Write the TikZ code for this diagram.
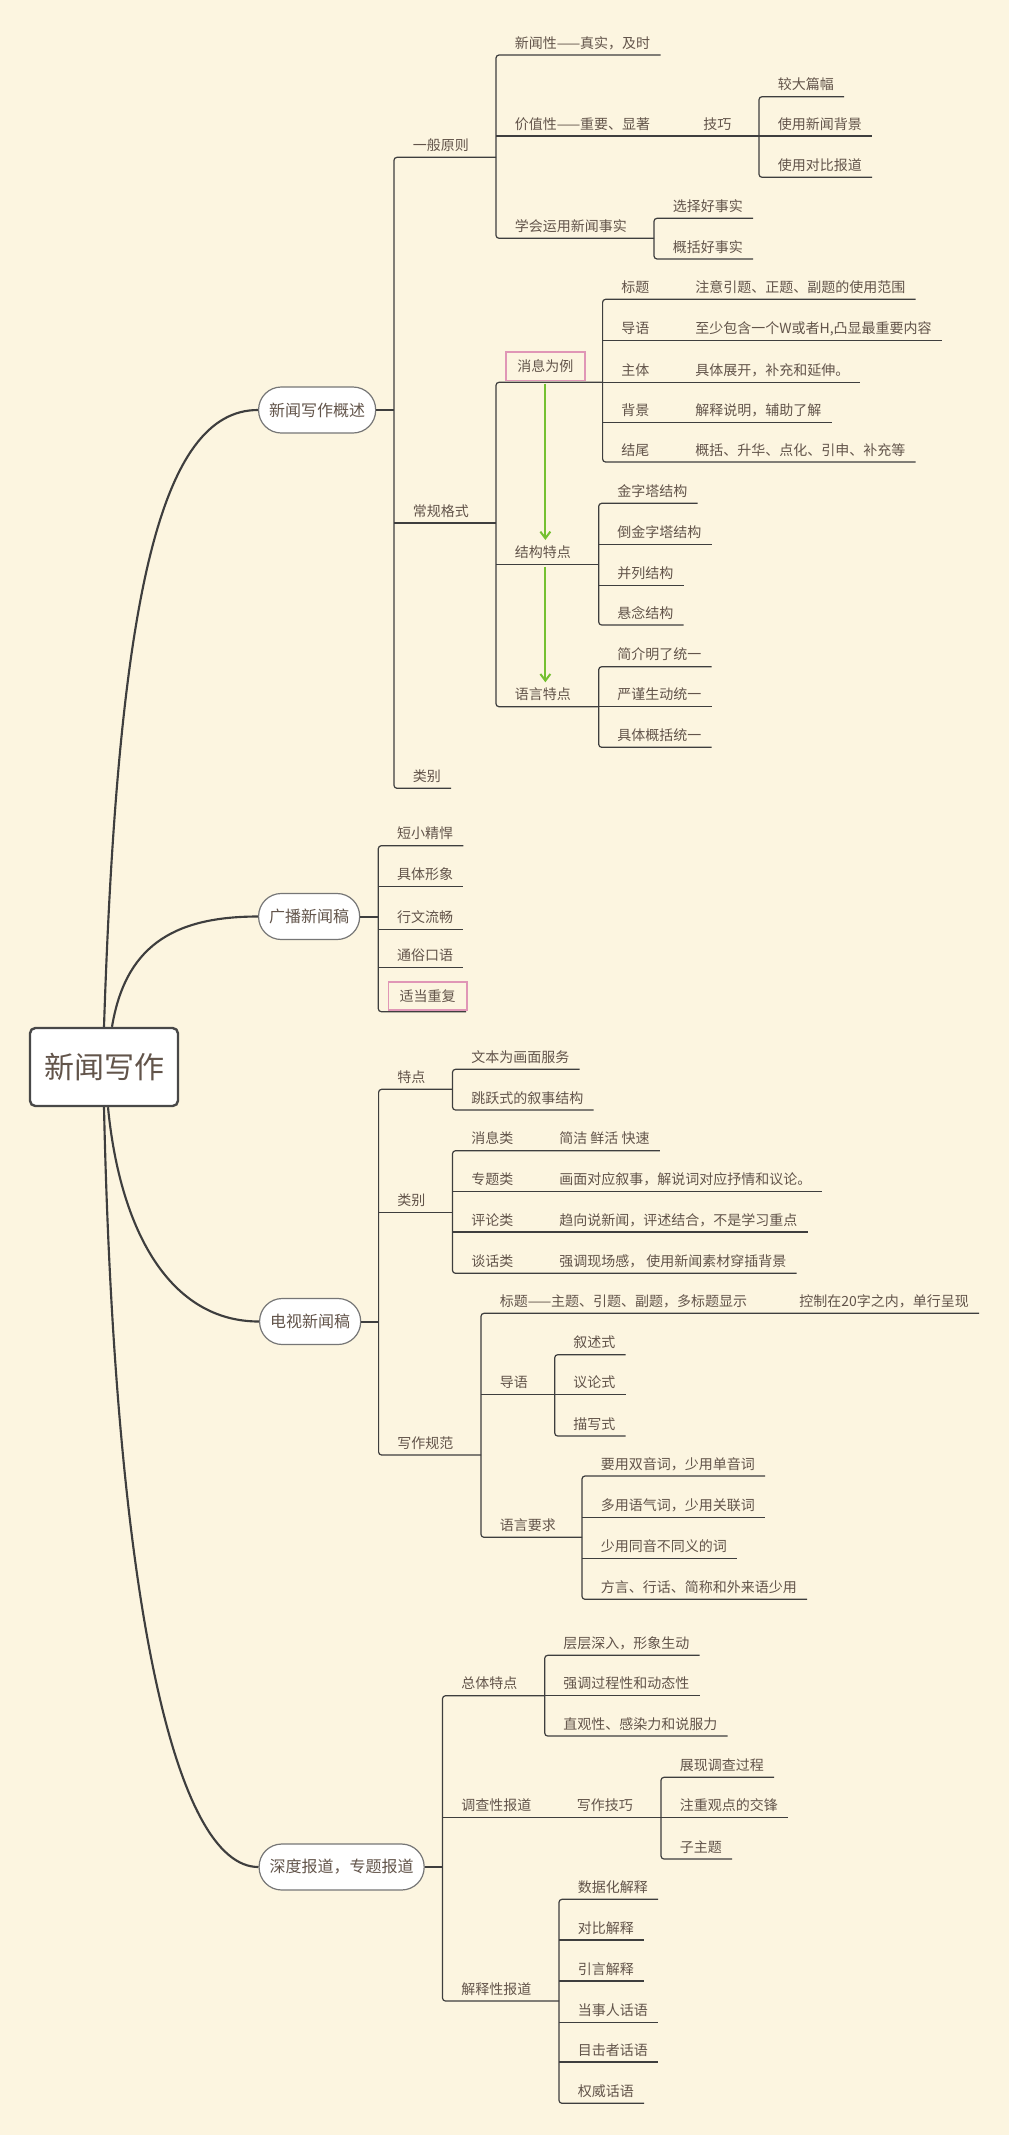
\documentclass[tikz,border=0pt]{standalone}
\usepackage{fontspec}
\newfontfamily\cjk{Noto Sans CJK SC}
\usetikzlibrary{arrows.meta,calc}
\definecolor{bgc}{RGB}{252,245,224}
\definecolor{txtc}{RGB}{98,84,74}
\definecolor{lnc}{RGB}{62,62,62}
\definecolor{pinkc}{RGB}{224,150,182}
\definecolor{greenc}{RGB}{116,192,48}
\definecolor{pillb}{RGB}{118,118,118}
\definecolor{rootb}{RGB}{72,72,72}
% leaf topic: name, bracket x, line y, text
\newcommand{\mmtp}[4]{%
  \node[tx] (#1) at (#2+18.5,#3-7) {#4};
  \coordinate (#1-a) at (#2,#3);
  \path (#1.east |- #1-a) ++(10,0) coordinate (#1-b);
}
% parent topic: name, bracket x, line y, text, end x
\newcommand{\mmtpp}[5]{%
  \node[tx] (#1) at (#2+18.5,#3-7) {#4};
  \coordinate (#1-a) at (#2,#3);
  \coordinate (#1-b) at (#5,#3);
}
% label + description row: name, bracket x, line y, label, desc x, desc
\newcommand{\mmrow}[6]{%
  \node[tx] (#1) at (#2+18.5,#3-7) {#4};
  \node[tx] (#1d) at (#5,#3-7) {#6};
  \coordinate (#1-a) at (#2,#3);
  \path (#1d.east |- #1-a) ++(10,0) coordinate (#1-b);
}
\newcommand{\mmdash}{\makebox[28pt][s]{—\hfil—}}
\begin{document}
\begin{tikzpicture}[x=0.75pt,y=-0.75pt,
  tx/.style={font=\cjk\fontsize{10.5pt}{12pt}\selectfont, text=txtc, inner sep=0pt, anchor=base west},
  ln/.style={draw=lnc, line width=0.9pt},
  br/.style={ln, rounded corners=2.25pt},
  joinln/.style={draw=lnc, line width=1.5pt},
  mainc/.style={draw=lnc, line width=1.6pt},
  pill/.style={draw=pillb, fill=white, line width=0.9pt, rounded corners=17pt, minimum height=34.5pt, inner xsep=7.9pt, inner ysep=0pt, font=\cjk\fontsize{12pt}{14pt}\selectfont, text=txtc, anchor=west},
  rootn/.style={draw=rootb, fill=white, line width=1.8pt, rounded corners=4pt, minimum width=111pt, minimum height=58.5pt, inner sep=0pt, font=\cjk\fontsize{22.5pt}{26pt}\selectfont, text=txtc},
  markbox/.style={draw=pinkc, line width=1.3pt, inner xsep=0pt, inner ysep=0pt, minimum height=21.5pt, font=\cjk\fontsize{10.5pt}{12pt}\selectfont, text=txtc, anchor=south west},
  garrow/.style={draw=greenc, line width=1.5pt, -{Straight Barb[length=5pt,width=7.5pt]}}
]
\useasboundingbox (0,0) rectangle (1009,2135);
\fill[bgc] (0,0) rectangle (1009,2135);

% ---------- root ----------
\node[rootn] (root) at (104,1067) {新闻写作};

% ---------- A: 新闻写作概述 ----------
\node[pill] (A) at (258,410) {新闻写作概述};
\draw[mainc] (root.north) .. controls +(14,-428) and +(-98,0) .. (A.west);
\coordinate (A-j) at (394,410);
\draw[joinln] (A.east) -- (A-j);

\mmtpp{a1}{394}{157.3}{一般原则}{496}
\mmtpp{a2}{394}{523}{常规格式}{496}
\mmtp{a3}{394}{788.3}{类别}
\draw[br] (a1-b) -- (a1-a) -- (a3-a) -- (a3-b);
\draw[ln] (a2-a) -- (a2-b);

% 一般原则
\mmtp{a11}{496}{55}{新闻性——真实，及时}
\mmtpp{a12}{496}{136}{价值性——重要、显著}{759}
\mmtpp{a13}{496}{238.3}{学会运用新闻事实}{654}
\draw[br] (a11-b) -- (a11-a) -- (a13-a) -- (a13-b);
\draw[ln] (a12-a) -- (a12-b);
\node[tx] (a121) at (703,129) {技巧};
\mmtp{t1}{759}{96.7}{较大篇幅}
\mmtp{t2}{759}{136}{使用新闻背景}
\mmtp{t3}{759}{177.3}{使用对比报道}
\draw[br] (t1-b) -- (t1-a) -- (t3-a) -- (t3-b);
\draw[ln] (t2-a) -- (t2-b);
\mmtp{s1}{654}{218.3}{选择好事实}
\mmtp{s2}{654}{259}{概括好事实}
\draw[br] (s1-b) -- (s1-a) -- (s2-a) -- (s2-b);

% 常规格式
\node[markbox, minimum width=59.25pt] (m) at (505,381.3) {消息为例};
\coordinate (m-a) at (496,382.3);
\coordinate (m-b) at (602.6,382.3);
\mmtpp{a22}{496}{564.3}{结构特点}{598.7}
\mmtpp{a23}{496}{706.7}{语言特点}{598.7}
\draw[br] (m-b) -- (m-a) -- (a23-a) -- (a23-b);
\draw[ln] (a22-a) -- (a22-b);

\mmrow{r1}{602.6}{299.3}{标题}{695}{注意引题、正题、副题的使用范围}
\mmrow{r2}{602.6}{340.3}{导语}{695}{至少包含一个W或者H,凸显最重要内容}
\mmrow{r3}{602.6}{382.3}{主体}{695}{具体展开，补充和延伸。}
\mmrow{r4}{602.6}{422.3}{背景}{695}{解释说明，辅助了解}
\mmrow{r5}{602.6}{462}{结尾}{695}{概括、升华、点化、引申、补充等}
\draw[br] (r1-b) -- (r1-a) -- (r5-a) -- (r5-b);
\draw[ln] (r2-a) -- (r2-b);
\draw[ln] (r3-a) -- (r3-b);
\draw[ln] (r4-a) -- (r4-b);

\mmtp{k1}{598.7}{503.3}{金字塔结构}
\mmtp{k2}{598.7}{544.3}{倒金字塔结构}
\mmtp{k3}{598.7}{585.3}{并列结构}
\mmtp{k4}{598.7}{625}{悬念结构}
\draw[br] (k1-b) -- (k1-a) -- (k4-a) -- (k4-b);
\draw[ln] (k2-a) -- (k2-b);
\draw[ln] (k3-a) -- (k3-b);

\mmtp{l1}{598.7}{666.7}{简介明了统一}
\mmtp{l2}{598.7}{706.7}{严谨生动统一}
\mmtp{l3}{598.7}{747.3}{具体概括统一}
\draw[br] (l1-b) -- (l1-a) -- (l3-a) -- (l3-b);
\draw[ln] (l2-a) -- (l2-b);

\draw[garrow, shorten <=1.8pt, shorten >=4pt] (m.south) -- (m.south |- a22.north);
\draw[garrow, shorten <=1.8pt, shorten >=4pt] (m.south |- a22-a) -- (m.south |- a23.north);

% ---------- B: 广播新闻稿 ----------
\node[pill] (B) at (258,916.5) {广播新闻稿};
\draw[mainc] ($(root.north)+(8,0)$) .. controls +(13,-78) and +(-88,0) .. (B.west);
\coordinate (B-j) at (378.3,916.5);
\draw[joinln] (B.east) -- (B-j);
\mmtp{b1}{378.3}{845.7}{短小精悍}
\mmtp{b2}{378.3}{886.7}{具体形象}
\mmtp{b3}{378.3}{929.3}{行文流畅}
\mmtp{b4}{378.3}{967.3}{通俗口语}
\node[markbox, minimum width=58.7pt, minimum height=21.2pt] (b5) at (387.7,1011) {适当重复};
\coordinate (b5-a) at (378.3,1011.7);
\coordinate (b5-b) at (466,1011.7);
\draw[br] (b1-b) -- (b1-a) -- (b5-a) -- (b5-b);
\draw[ln] (b2-a) -- (b2-b);
\draw[ln] (b3-a) -- (b3-b);
\draw[ln] (b4-a) -- (b4-b);

% ---------- C: 电视新闻稿 ----------
\node[pill] (C) at (259,1321.5) {电视新闻稿};
\draw[mainc] ($(root.south)+(4,0)$) .. controls +(12,124) and +(-89,0) .. (C.west);
\coordinate (C-j) at (378.6,1321.5);
\draw[joinln] (C.east) -- (C-j);
\mmtpp{c1}{378.6}{1089.3}{特点}{452.5}
\mmtpp{c2}{378.6}{1212.3}{类别}{452.5}
\mmtpp{c3}{378.6}{1455}{写作规范}{481}
\draw[br] (c1-b) -- (c1-a) -- (c3-a) -- (c3-b);
\draw[ln] (c2-a) -- (c2-b);

\mmtp{c11}{452.5}{1069.3}{文本为画面服务}
\mmtp{c12}{452.5}{1110}{跳跃式的叙事结构}
\draw[br] (c11-b) -- (c11-a) -- (c12-a) -- (c12-b);

\mmrow{c21}{452.5}{1150.7}{消息类}{559}{简洁 鲜活 快速}
\mmrow{c22}{452.5}{1191.7}{专题类}{559}{画面对应叙事，解说词对应抒情和议论。}
\mmrow{c23}{452.5}{1232}{评论类}{559}{趋向说新闻，评述结合，不是学习重点}
\mmrow{c24}{452.5}{1273.3}{谈话类}{559}{强调现场感， 使用新闻素材穿插背景}
\draw[br] (c21-b) -- (c21-a) -- (c24-a) -- (c24-b);
\draw[ln] (c22-a) -- (c22-b);
\draw[ln] (c23-a) -- (c23-b);

\mmrow{c31}{481}{1313.3}{标题——主题、引题、副题，多标题显示}{799}{控制在20字之内，单行呈现}
\mmtpp{c32}{481}{1394.7}{导语}{554.7}
\mmtpp{c33}{481}{1537.3}{语言要求}{582}
\draw[br] (c31-b) -- (c31-a) -- (c33-a) -- (c33-b);
\draw[ln] (c32-a) -- (c32-b);

\mmtp{g1}{554.7}{1354.7}{叙述式}
\mmtp{g2}{554.7}{1394.7}{议论式}
\mmtp{g3}{554.7}{1436}{描写式}
\draw[br] (g1-b) -- (g1-a) -- (g3-a) -- (g3-b);
\draw[ln] (g2-a) -- (g2-b);

\mmtp{y1}{582}{1476}{要用双音词，少用单音词}
\mmtp{y2}{582}{1517.3}{多用语气词，少用关联词}
\mmtp{y3}{582}{1558.3}{少用同音不同义的词}
\mmtp{y4}{582}{1599.3}{方言、行话、简称和外来语少用}
\draw[br] (y1-b) -- (y1-a) -- (y4-a) -- (y4-b);
\draw[ln] (y2-a) -- (y2-b);
\draw[ln] (y3-a) -- (y3-b);

% ---------- D: 深度报道，专题报道 ----------
\node[pill] (D) at (258.5,1867) {深度报道，专题报道};
\draw[mainc] (root.south) .. controls +(11,494) and +(-83.5,0) .. (D.west);
\coordinate (D-j) at (442.5,1867);
\draw[joinln] (D.east) -- (D-j);
\mmtpp{d1}{442.5}{1695.7}{总体特点}{544.7}
\mmtpp{d2}{442.5}{1817.3}{调查性报道}{661}
\mmtpp{d3}{442.5}{2001}{解释性报道}{559}
\draw[br] (d1-b) -- (d1-a) -- (d3-a) -- (d3-b);
\draw[ln] (d2-a) -- (d2-b);

\mmtp{e1}{544.7}{1655.3}{层层深入，形象生动}
\mmtp{e2}{544.7}{1695.7}{强调过程性和动态性}
\mmtp{e3}{544.7}{1736}{直观性、感染力和说服力}
\draw[br] (e1-b) -- (e1-a) -- (e3-a) -- (e3-b);
\draw[ln] (e2-a) -- (e2-b);

\node[tx] (d21) at (576.6,1810.3) {写作技巧};
\mmtp{f1}{661}{1777.3}{展现调查过程}
\mmtp{f2}{661}{1817.3}{注重观点的交锋}
\mmtp{f3}{661}{1859}{子主题}
\draw[br] (f1-b) -- (f1-a) -- (f3-a) -- (f3-b);
\draw[ln] (f2-a) -- (f2-b);

\mmtp{h1}{559}{1899.3}{数据化解释}
\mmtp{h2}{559}{1940}{对比解释}
\mmtp{h3}{559}{1981}{引言解释}
\mmtp{h4}{559}{2022.3}{当事人话语}
\mmtp{h5}{559}{2062}{目击者话语}
\mmtp{h6}{559}{2103.3}{权威话语}
\draw[br] (h1-b) -- (h1-a) -- (h6-a) -- (h6-b);
\draw[ln] (h2-a) -- (h2-b);
\draw[ln] (h3-a) -- (h3-b);
\draw[ln] (h4-a) -- (h4-b);
\draw[ln] (h5-a) -- (h5-b);
\end{tikzpicture}
\end{document}
